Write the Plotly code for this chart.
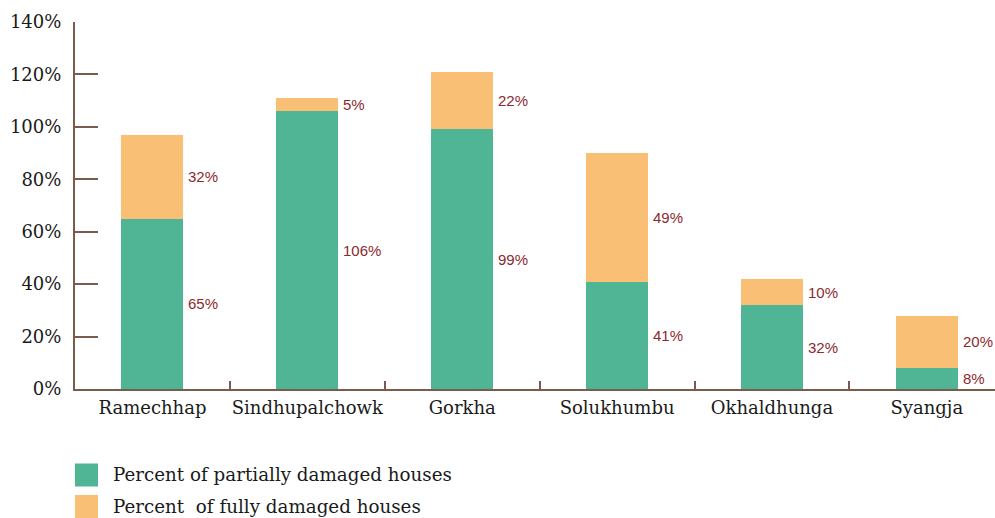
import plotly.graph_objects as go

districts = ["Ramechhap", "Sindhupalchowk", "Gorkha", "Solukhumbu", "Okhaldhunga", "Syangja"]
partial = [65, 106, 99, 41, 32, 8]
full = [32, 5, 22, 49, 10, 20]
y_ticks = [0, 20, 40, 60, 80, 100, 120, 140]
series_names = ["Percent of partially damaged houses", "Percent  of fully damaged houses"]

GREEN = "#50B594"
ORANGE = "#F9C075"
LABEL = "#8B2A2E"
AXIS = "#7A5C4E"
SERIF = "DejaVu Serif"
SANS = "Liberation Sans"

W, H = 995, 518
ML, MT, MB = 75, 22, 129
PW, PH = W - ML, H - MT - MB

fig = go.Figure()
fig.add_trace(go.Bar(x=districts, y=partial, name=series_names[0], marker=dict(color=GREEN, line=dict(width=0)), width=0.4))
fig.add_trace(go.Bar(x=districts, y=full, name=series_names[1], marker=dict(color=ORANGE, line=dict(width=0)), width=0.4))

annotations = []
for d, p, f in zip(districts, partial, full):
    annotations.append(dict(x=d, y=p / 2, text=f"{p}%", showarrow=False, xanchor="left", yanchor="middle",
                            xshift=34, font=dict(family=SANS, size=15, color=LABEL)))
    annotations.append(dict(x=d, y=p + f / 2, text=f"{f}%", showarrow=False, xanchor="left", yanchor="middle",
                            xshift=34, font=dict(family=SANS, size=15, color=LABEL)))

# custom legend (pixel positions relative to figure)
shapes = []
bottom_px = MT + PH
for i, (name, col) in enumerate(zip(series_names, [GREEN, ORANGE])):
    yc = 475 + i * 31.5
    shapes.append(dict(type="rect", xref="paper", yref="paper",
                       x0=0, x1=23 / PW,
                       y0=(bottom_px - (yc + 11.5)) / PH, y1=(bottom_px - (yc - 11.5)) / PH,
                       fillcolor=col, line=dict(width=0)))
    annotations.append(dict(xref="paper", yref="paper", x=36 / PW, y=(bottom_px - yc) / PH, text=name,
                            showarrow=False, xanchor="left", yanchor="middle",
                            font=dict(family=SERIF, size=18.3, color="#1a1a1a")))

fig.update_layout(
    width=W, height=H,
    margin=dict(l=ML, r=0, t=MT, b=MB, autoexpand=False),
    barmode="stack",
    plot_bgcolor="white", paper_bgcolor="white",
    showlegend=False,
    annotations=annotations,
    shapes=shapes,
    xaxis=dict(type="category", range=[-0.5, 5.44], showline=True, linecolor=AXIS, linewidth=2,
               ticks="inside", tickson="boundaries", ticklen=8, tickwidth=1.5, tickcolor=AXIS,
               showgrid=False, zeroline=False, ticklabelstandoff=1, tickangle=0, automargin=False,
               tickfont=dict(family=SERIF, size=18, color="#1a1a1a")),
    yaxis=dict(range=[0, 140], tickvals=y_ticks, ticktext=[f"{v}%" for v in y_ticks],
               showline=True, linecolor=AXIS, linewidth=2, ticks="inside", ticklen=23, tickwidth=2,
               tickcolor=AXIS, showgrid=False, zeroline=False, ticklabelstandoff=8, automargin=False,
               tickfont=dict(family=SERIF, size=18, color="#1a1a1a")),
)

fig.write_html("out.html", config={"displayModeBar": False},
               post_script="document.body.style.margin='0';document.body.style.overflow='hidden';")
